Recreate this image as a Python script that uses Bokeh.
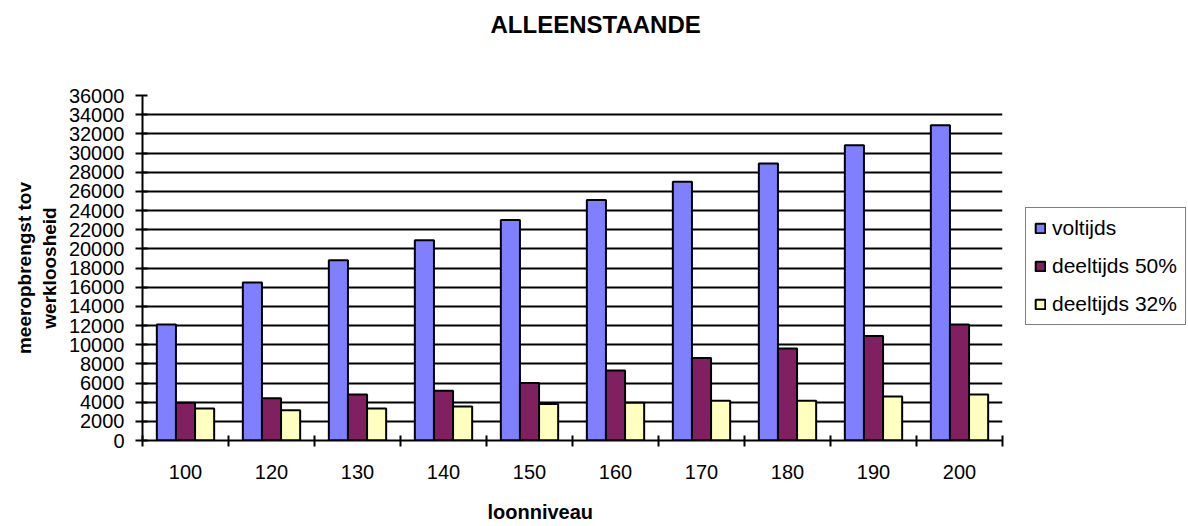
from bokeh.plotting import figure
from bokeh.models import (Range1d, FixedTicker, Legend, LegendItem, Grid, Title,
                          ColumnDataSource)
from bokeh.embed import file_html
from bokeh.resources import INLINE

# ---- data ----
categories = ["100", "120", "130", "140", "150", "160", "170", "180", "190", "200"]
voltijds = [12100, 16500, 18800, 20900, 23000, 25100, 27000, 28900, 30800, 32900]
deeltijds_50 = [3950, 4400, 4800, 5200, 6000, 7300, 8600, 9600, 10900, 12100]
deeltijds_32 = [3350, 3150, 3350, 3550, 3800, 3950, 4150, 4150, 4600, 4800]
series_names = ["voltijds", "deeltijds 50%", "deeltijds 32%"]
series_colors = ["#8080FF", "#802060", "#FFFFC0"]
y_ticks = list(range(0, 36001, 2000))

FONT = "Liberation Sans"
n = len(categories)
bar_w = 1 / 4.5
centers = [i + 0.5 for i in range(n)]

p = figure(frame_width=860, frame_height=345,
           x_range=Range1d(0, n), y_range=Range1d(0, 36000),
           output_backend="svg", toolbar_location=None,
           min_border_left=142, min_border_right=184,
           min_border_top=95, min_border_bottom=84,
           outline_line_color=None)

# main title (outermost slot)
p.title.text = "ALLEENSTAANDE"
p.title.align = "left"
p.title.offset = 348
p.title.standoff = 0
p.title.vertical_align = "top"
p.title.text_font = FONT
p.title.text_font_size = "24px"
p.title.text_font_style = "bold"
p.title.text_color = "black"

# spacer between frame and main title
spacer = Title(text=" ", text_font_size="10px", standoff=43)
p.add_layout(spacer, "above")

renderers = []
for k, (vals, name, col) in enumerate(zip([voltijds, deeltijds_50, deeltijds_32],
                                          series_names, series_colors)):
    src = ColumnDataSource(dict(x=[c + (k - 1) * bar_w for c in centers],
                                top=vals, cat=categories))
    r = p.vbar(x="x", top="top", width=bar_w, bottom=0, source=src,
               fill_color=col, line_color="black", line_width=2)
    renderers.append(r)

# x axis: labels at centres, ticks at boundaries
xa = p.xaxis[0]
xa.ticker = FixedTicker(ticks=centers, minor_ticks=list(range(0, n + 1)))
xa.major_label_overrides = {c: lab for c, lab in zip(centers, categories)}
xa.major_tick_line_color = None
xa.major_tick_out = 0
xa.major_tick_in = 0
xa.minor_tick_line_color = "black"
xa.minor_tick_line_width = 2
xa.minor_tick_in = 5
xa.minor_tick_out = 6
xa.axis_line_color = "black"
xa.axis_line_width = 2
xa.major_label_text_font = FONT
xa.major_label_text_font_size = "20px"
xa.major_label_text_color = "black"
xa.major_label_standoff = 18

# y axis
ya = p.yaxis[0]
ya.ticker = FixedTicker(ticks=y_ticks)
ya.minor_tick_line_color = None
ya.major_tick_line_color = "black"
ya.major_tick_line_width = 2
ya.major_tick_in = 5
ya.major_tick_out = 7
ya.axis_line_color = "black"
ya.axis_line_width = 2
ya.major_label_text_font = FONT
ya.major_label_text_font_size = "20px"
ya.major_label_text_color = "black"
ya.major_label_standoff = 11
ya.axis_label = "meeropbrengst tov\nwerkloosheid"
ya.axis_label_text_font = FONT
ya.axis_label_text_font_size = "19px"
ya.axis_label_text_font_style = "bold"
ya.axis_label_text_color = "black"
ya.axis_label_standoff = 6

# grids
p.xgrid.visible = False
p.ygrid.ticker = FixedTicker(ticks=y_ticks[1:-1])
p.ygrid.grid_line_color = "black"
p.ygrid.grid_line_width = 2
p.add_layout(Grid(dimension=1, ticker=FixedTicker(ticks=[y_ticks[-1]]),
                  grid_line_color="#c0c0c0", grid_line_width=2))

# x axis title
xt = Title(text="loonniveau", align="left", offset=345, standoff=34,
           text_font=FONT, text_font_size="20px", text_font_style="bold",
           text_color="black")
p.add_layout(xt, "below")

# legend
legend = Legend(items=[LegendItem(label=nm, renderers=[r])
                       for nm, r in zip(series_names, renderers)],
                location=(23, 115))
legend.label_text_font = FONT
legend.label_text_font_size = "21px"
legend.label_text_color = "black"
legend.glyph_width = 12
legend.glyph_height = 12
legend.label_height = 24
legend.spacing = 14
legend.padding = 8
legend.margin = 0
legend.label_standoff = 6
legend.border_line_color = "black"
legend.border_line_width = 1.5
legend.background_fill_color = "white"
p.add_layout(legend, "right")

open("out.html", "w").write(file_html(p, INLINE))
